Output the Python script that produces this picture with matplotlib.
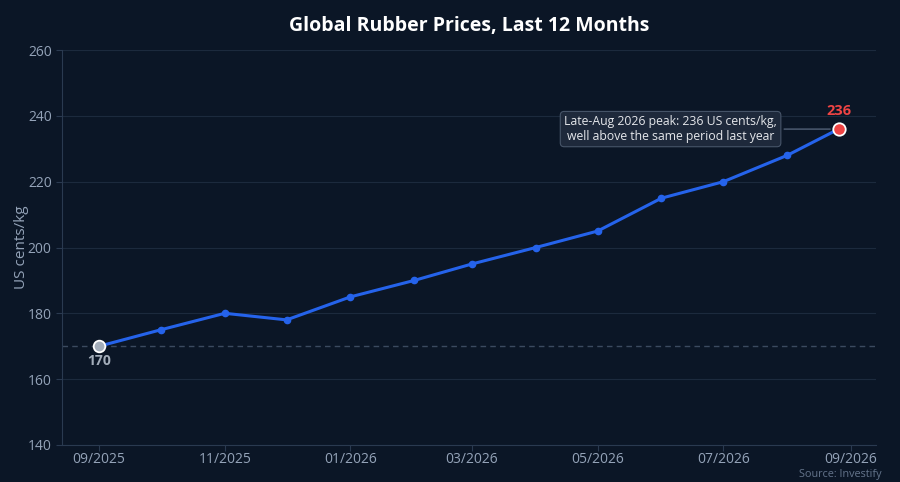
import matplotlib
matplotlib.use("Agg")
import matplotlib.pyplot as plt
import matplotlib.dates as mdates
import numpy as np
import pandas as pd

plt.rcParams['font.family'] = ['Open Sans', 'DejaVu Sans']

# data
dates = pd.to_datetime(["2025-09-01", "2025-10-01", "2025-11-01", "2025-12-01",
                        "2026-01-01", "2026-02-01", "2026-03-01", "2026-04-01",
                        "2026-05-01", "2026-06-01", "2026-07-01", "2026-08-01",
                        "2026-08-26"])
prices = [170, 175, 180, 178, 185, 190, 195, 200, 205, 215, 220, 228, 236]
baseline = 170
title = "Global Rubber Prices, Last 12 Months"
ylabel = "US cents/kg"
note = "Late-Aug 2026 peak: 236 US cents/kg,\nwell above the same period last year"
source = "Source: Investify"

bg = '#0b1626'
grid_c = '#1c2a3d'
tick_c = '#94a3b8'
line_c = '#2563eb'

fig, ax = plt.subplots(figsize=(9, 4.82), dpi=100)
fig.patch.set_facecolor(bg)
ax.set_facecolor(bg)
fig.subplots_adjust(left=0.069, right=0.973, top=0.896, bottom=0.077)

ax.plot(dates, prices, color=line_c, lw=2.2, marker='o', ms=4.5, zorder=3)
ax.axhline(baseline, color='#3b4a5f', lw=1, ls=(0, (4, 3)), zorder=1)

ax.scatter([dates[0]], [prices[0]], s=70, color='#a3adba', edgecolor='white', lw=1.3, zorder=5)
ax.scatter([dates[-1]], [prices[-1]], s=80, color='#ef4444', edgecolor='white', lw=1.3, zorder=5)

ax.annotate(str(prices[0]), (dates[0], prices[0]), xytext=(0, -11), textcoords='offset points',
            ha='center', va='center', color='#a3adba', fontsize=10, fontweight='bold')
ax.annotate(str(prices[-1]), (dates[-1], prices[-1]), xytext=(0, 13), textcoords='offset points',
            ha='center', va='center', color='#ef4444', fontsize=10.5, fontweight='bold')

ax.annotate(note, xy=(dates[-1], prices[-1]), xytext=(-121, 0), textcoords='offset points',
            ha='center', va='center', color='#e5e7eb', fontsize=8.8, linespacing=1.15,
            bbox=dict(boxstyle='round,pad=0.32', fc='#1e293b', ec='#475569', lw=0.8),
            arrowprops=dict(arrowstyle='-', color='#64748b', lw=0.8, shrinkB=6),
            zorder=6)

ax.set_ylim(140, 260)
ax.set_yticks(np.arange(140, 261, 20))
ax.set_xlim(pd.Timestamp("2025-08-14"), pd.Timestamp("2026-09-13"))
ax.xaxis.set_major_locator(mdates.MonthLocator(bymonth=[1, 3, 5, 7, 9, 11]))
ax.xaxis.set_major_formatter(mdates.DateFormatter('%m/%Y'))

ax.grid(axis='y', color=grid_c, lw=0.8)
ax.set_axisbelow(True)
for s in ['top', 'right']:
    ax.spines[s].set_visible(False)
for s in ['left', 'bottom']:
    ax.spines[s].set_color('#2a3a50')
ax.tick_params(axis='x', colors='#2a3a50', labelcolor=tick_c, labelsize=10, length=4, pad=1)
ax.tick_params(axis='y', colors='#2a3a50', labelcolor=tick_c, labelsize=10, length=4)

ax.set_ylabel(ylabel, color=tick_c, fontsize=11)
ax.yaxis.set_label_coords(-0.041, 0.5)
ax.set_title(title, color='white', fontsize=14, fontweight='bold', pad=14)
fig.text(0.98, 0.004, source, ha='right', va='bottom', color='#64748b', fontsize=7.8)

fig.savefig('out.png', dpi=100, facecolor=bg)
